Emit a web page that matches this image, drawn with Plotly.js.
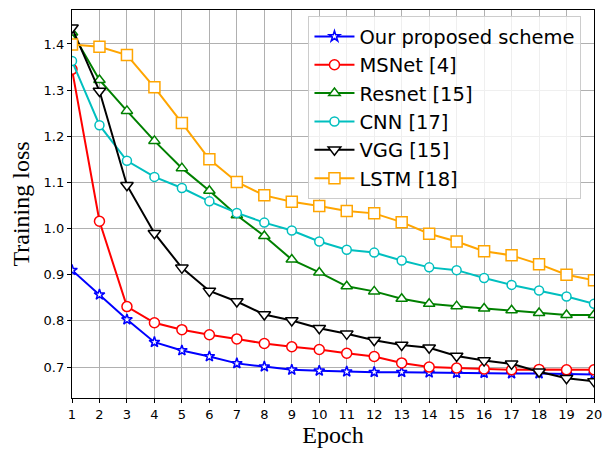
<!DOCTYPE html>
<html><head><meta charset="utf-8">
<script src="https://cdn.plot.ly/plotly-3.0.1.min.js"></script>
<style>body{margin:0;padding:0;background:#fff}#chart{width:610px;height:451px}</style>
</head><body><div id="chart"></div>
<script>
const epochs = [1,2,3,4,5,6,7,8,9,10,11,12,13,14,15,16,17,18,19,20];
const proposed = [0.910,0.857,0.803,0.754,0.736,0.723,0.708,0.701,0.694,0.692,0.690,0.689,0.689,0.688,0.687,0.687,0.686,0.686,0.685,0.684];
const msnet = [1.345,1.016,0.831,0.796,0.781,0.770,0.761,0.751,0.744,0.738,0.730,0.723,0.709,0.700,0.698,0.696,0.694,0.695,0.694,0.694];
const resnet = [1.425,1.322,1.255,1.190,1.131,1.082,1.029,0.984,0.933,0.905,0.875,0.864,0.848,0.837,0.832,0.827,0.823,0.817,0.813,0.813];
const cnn = [1.363,1.224,1.147,1.112,1.088,1.059,1.034,1.013,0.996,0.972,0.954,0.948,0.931,0.916,0.910,0.893,0.878,0.866,0.853,0.837];
const vgg = [1.435,1.298,1.094,0.990,0.915,0.865,0.842,0.814,0.801,0.784,0.772,0.758,0.748,0.742,0.724,0.714,0.707,0.690,0.676,0.669];
const lstm = [1.399,1.394,1.376,1.306,1.229,1.150,1.101,1.072,1.058,1.049,1.038,1.033,1.014,0.989,0.972,0.951,0.942,0.923,0.900,0.888];
const names = ["Our proposed scheme","MSNet [4]","Resnet [15]","CNN [17]","VGG [15]","LSTM [18]"];
const yTicks = [0.7,0.8,0.9,1.0,1.1,1.2,1.3,1.4];

const series = [proposed, msnet, resnet, cnn, vgg, lstm];
const colors = ["#0000ff","#ff0000","#008000","#00bfbf","#000000","#ffa500"];
const symbols = ["star","circle","triangle-up","circle","triangle-down","square"];
const sizes = [8,10,10,9,11,11];

const traces = series.map((s,i)=>({
  x: epochs, y: s, name: names[i], type:'scatter', mode:'lines+markers',
  line:{color:colors[i], width:2},
  marker:{symbol:symbols[i], size:sizes[i], color:'#ffffff', line:{color:colors[i], width:1.5}},
  cliponaxis: true
}));

const layout = {
  width:610, height:451,
  margin:{l:72, r:16, t:10, b:53},
  paper_bgcolor:'#fff', plot_bgcolor:'#fff',
  font:{family:'DejaVu Sans', color:'#000'},
  xaxis:{
    range:[1,20], tickvals:epochs, ticktext:epochs.map(String),
    showgrid:true, gridcolor:'#b0b0b0', gridwidth:1,
    showline:true, linecolor:'#000', linewidth:1.2, mirror:true,
    ticks:'outside', ticklen:4, tickcolor:'#000',
    tickfont:{size:13, family:'DejaVu Sans'},
    zeroline:false,
    title:{text:'Epoch', font:{family:'Liberation Serif', size:24}, standoff:5}
  },
  yaxis:{
    range:[0.633,1.4736], tickvals:yTicks, ticktext:yTicks.map(v=>v.toFixed(1)),
    showgrid:true, gridcolor:'#b0b0b0', gridwidth:1,
    showline:true, linecolor:'#000', linewidth:1.2, mirror:true,
    ticks:'outside', ticklen:4, tickcolor:'#000',
    tickfont:{size:13, family:'DejaVu Sans'},
    zeroline:false,
    title:{text:'Training loss', font:{family:'Liberation Serif', size:24}, standoff:7}
  },
  legend:{
    x:0.453, y:0.984, xanchor:'left', yanchor:'top',
    bgcolor:'rgba(255,255,255,0.8)', bordercolor:'#cccccc', borderwidth:1,
    font:{size:19.5, family:'DejaVu Sans'}, tracegroupgap:0, itemwidth:40
  },
  showlegend:true
};
Plotly.newPlot('chart', traces, layout, {displayModeBar:false, staticPlot:true});
</script></body></html>
